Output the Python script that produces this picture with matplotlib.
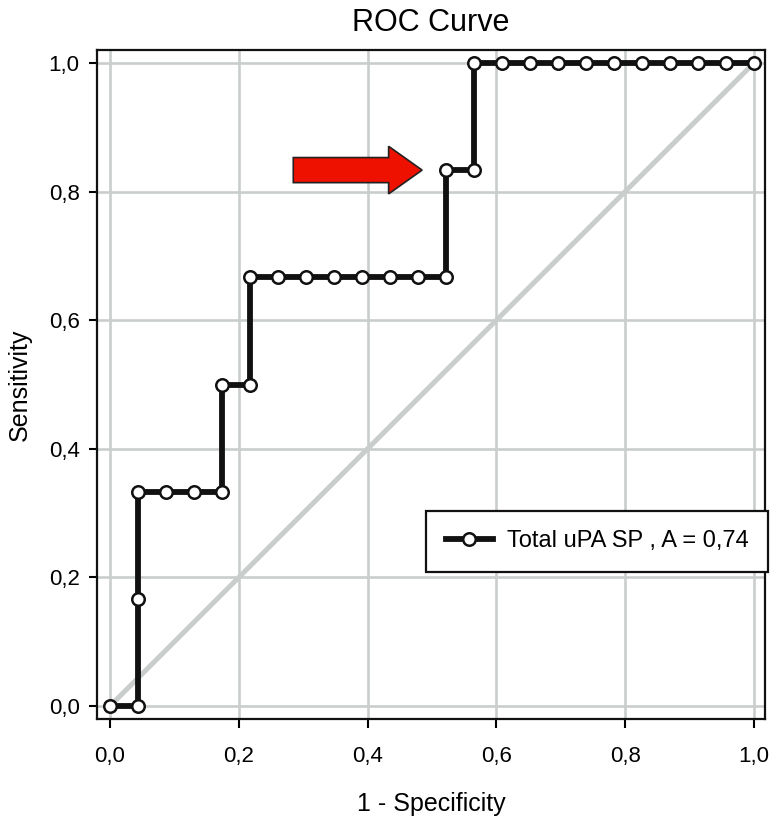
import matplotlib
matplotlib.use("Agg")
import matplotlib.pyplot as plt
from matplotlib.patches import FancyArrow

plt.rcParams['font.family'] = ['Liberation Sans', 'DejaVu Sans']

# ROC points (23 negatives, 6 positives)
fpr = [0.0, 0.0435, 0.0435, 0.0435, 0.087, 0.1304, 0.1739, 0.1739, 0.2174, 0.2174,
       0.2609, 0.3043, 0.3478, 0.3913, 0.4348, 0.4783, 0.5217, 0.5217, 0.5652, 0.5652,
       0.6087, 0.6522, 0.6957, 0.7391, 0.7826, 0.8261, 0.8696, 0.913, 0.9565, 1.0]
tpr = [0.0, 0.0, 0.1667, 0.3333, 0.3333, 0.3333, 0.3333, 0.5, 0.5, 0.6667,
       0.6667, 0.6667, 0.6667, 0.6667, 0.6667, 0.6667, 0.6667, 0.8333, 0.8333, 1.0,
       1.0, 1.0, 1.0, 1.0, 1.0, 1.0, 1.0, 1.0, 1.0, 1.0]
ref_line = [0.0, 1.0]
ticks = [0.0, 0.2, 0.4, 0.6, 0.8, 1.0]
tick_labels = ["0,0", "0,2", "0,4", "0,6", "0,8", "1,0"]
series_label = "Total uPA SP , A = 0,74"
highlight = 17  # point marked by the red arrow

fig = plt.figure(figsize=(7.73, 8.19), dpi=100)
ax = fig.add_axes([97 / 773, 1 - 719 / 819, 668 / 773, 669 / 819])

grid_col = "#c9cecc"
ax.grid(True, color=grid_col, lw=1.9, zorder=0)
ax.set_axisbelow(True)
ax.plot(ref_line, ref_line, color=grid_col, lw=3.6, zorder=1)
ax.plot(fpr, tpr, color="#111111", lw=4.2, marker="o", markersize=9,
        markerfacecolor="white", markeredgecolor="#111111", markeredgewidth=1.8,
        zorder=3, label=series_label)

# red arrow pointing at the highlighted point
hx, hy = fpr[highlight], tpr[highlight]
ax.add_patch(FancyArrow(hx - 0.237, hy, 0.148, 0, width=0.039, head_width=0.074,
                        head_length=0.052, length_includes_head=False,
                        facecolor="#ee1100", edgecolor="#222222", lw=1.2, zorder=4))

ax.set_xlim(-0.02, 1.017)
ax.set_ylim(-0.02, 1.02)
ax.set_xticks(ticks, labels=tick_labels)
ax.set_yticks(ticks, labels=tick_labels)
ax.tick_params(axis="x", direction="out", length=6.5, width=1.5, pad=13, labelsize=16)
ax.tick_params(axis="y", direction="out", length=5.5, width=1.5, pad=7, labelsize=16)
for s in ax.spines.values():
    s.set_linewidth(1.6)
    s.set_color("#111111")

ax.set_title("ROC Curve", fontsize=22, pad=14)
ax.set_xlabel("1 - Specificity", fontsize=18, labelpad=18)
ax.set_ylabel("Sensitivity", fontsize=18, labelpad=12)

leg = ax.legend(loc="upper right", bbox_to_anchor=(768 / 773, 1 - 511 / 819),
                bbox_transform=fig.transFigure, borderaxespad=0, fontsize=17,
                fancybox=False, framealpha=1, edgecolor="#111111",
                handlelength=2.0, handletextpad=0.6, borderpad=0.82)
leg.get_frame().set_linewidth(1.6)

fig.savefig("out.png", dpi=100)
